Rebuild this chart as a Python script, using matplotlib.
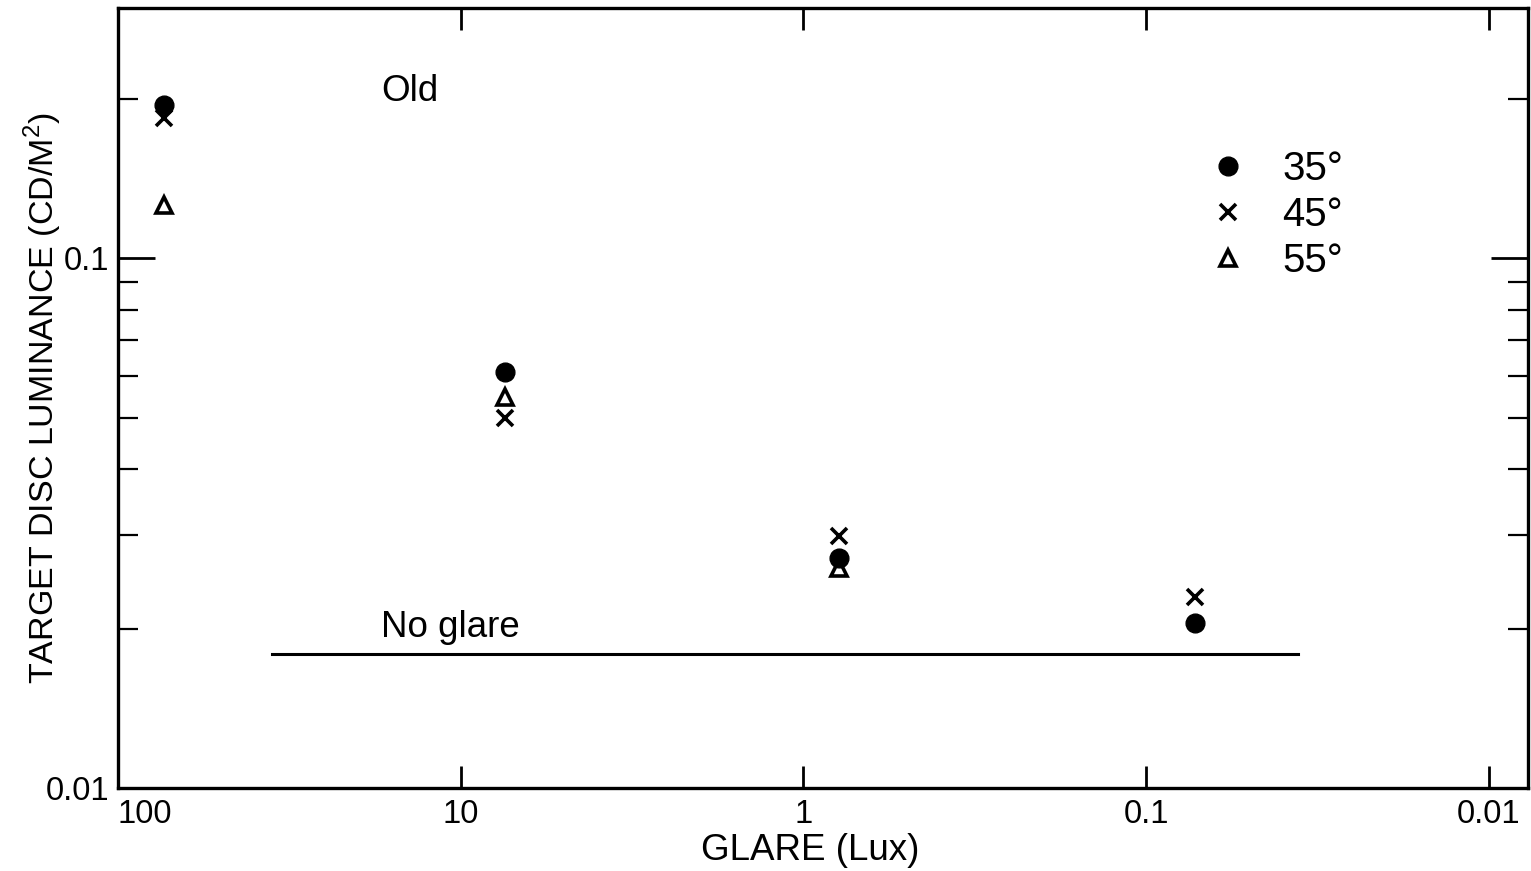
import matplotlib
matplotlib.use("Agg")
import matplotlib.pyplot as plt
from matplotlib.lines import Line2D
from matplotlib.transforms import ScaledTranslation

plt.rcParams['font.family'] = ['Liberation Sans', 'DejaVu Sans']
plt.rcParams['mathtext.fontset'] = 'custom'
plt.rcParams['mathtext.rm'] = 'Liberation Sans'

# ---- data ----
glare_lux = [73.5, 7.45, 0.79, 0.072]
lum_35 = [0.195, 0.0609, 0.0272, 0.0205]
lum_45 = [0.184, 0.0499, 0.0299, 0.0229]
glare_55 = [73.5, 7.45, 0.79]
lum_55 = [0.126, 0.0547, 0.0260]
no_glare_x = [35.6, 0.036]
no_glare_y = [0.0179, 0.0179]
series_labels = ['35°', '45°', '55°']
xtick_vals = [100, 10, 1, 0.1, 0.01]
xtick_labels = ['100', '10', '1', '0.1', '0.01']
ytick_vals = [0.01, 0.1]
ytick_labels = ['0.01', '0.1']
yminor_vals = [0.02, 0.03, 0.04, 0.05, 0.06, 0.07, 0.08, 0.09, 0.2]

W, H = 1531, 871
fig = plt.figure(figsize=(W / 100, H / 100), dpi=100)
ax = fig.add_axes([118 / W, 1 - 788 / H, 1410 / W, 780 / H])

ax.set_xscale('log')
ax.set_yscale('log')
ax.set_xlim(100, 0.00769)
ax.set_ylim(0.01, 0.2966)

ms_c, ms_x, ms_t = 13.5, 12, 11
ax.plot(glare_lux, lum_35, 'o', color='black', ms=ms_c, ls='none', zorder=3)
ax.plot(glare_lux, lum_45, 'x', color='black', ms=ms_x, mew=2.6, ls='none', zorder=4)
ax.plot(glare_55, lum_55, '^', mfc='white', mec='black', ms=ms_t, mew=2.6, ls='none', zorder=2)
ax.plot(no_glare_x, no_glare_y, '-', color='black', lw=2.2)

fs_txt = 26.5
ax.text(17.1, 0.2066, 'Old', fontsize=fs_txt, ha='left', va='center')
ax.text(17.1, 0.0201, 'No glare', fontsize=fs_txt, ha='left', va='center')

handles = [
    Line2D([], [], marker='o', color='black', ms=ms_c, ls='none'),
    Line2D([], [], marker='x', color='black', ms=ms_x, mew=2.6, ls='none'),
    Line2D([], [], marker='^', mfc='white', mec='black', ms=ms_t, mew=2.6, ls='none'),
]
ax.legend(handles, series_labels, loc='upper left', bbox_to_anchor=(0.773, 0.818),
          frameon=False, fontsize=29, handlelength=1.0, handletextpad=0.84,
          labelspacing=0.2, borderpad=0, borderaxespad=0)

# ticks
fs_tick = 23.5
ax.set_xticks(xtick_vals)
ax.set_xticklabels(xtick_labels)
ax.xaxis.set_minor_locator(matplotlib.ticker.NullLocator())
ax.tick_params(axis='x', which='major', direction='in', length=16, width=2,
               top=True, bottom=True, labelsize=fs_tick, pad=8)
ax.set_yticks(ytick_vals)
ax.set_yticklabels(ytick_labels)
ax.set_yticks(yminor_vals, minor=True)
ax.yaxis.set_minor_formatter(matplotlib.ticker.NullFormatter())
ax.tick_params(axis='y', which='major', direction='in', length=26.5, width=2,
               left=True, right=True, labelsize=fs_tick, pad=6)
ax.tick_params(axis='y', which='minor', direction='in', length=14.5, width=1.6,
               left=True, right=True)

# shift "100" label right of the spine as in the reference
lbl100 = ax.get_xticklabels()[0]
lbl100.set_transform(lbl100.get_transform() + ScaledTranslation(0.27, 0, fig.dpi_scale_trans))

for s in ax.spines.values():
    s.set_linewidth(2.4)

ax.set_xlabel('GLARE (Lux)', fontsize=26.5)
ax.xaxis.set_label_coords(0.491, -0.058)
ax.set_ylabel('TARGET DISC LUMINANCE (CD/M$^2$)', fontsize=24.5)
ax.yaxis.set_label_coords(-0.038, 0.5)

fig.savefig('out.png', dpi=100)
